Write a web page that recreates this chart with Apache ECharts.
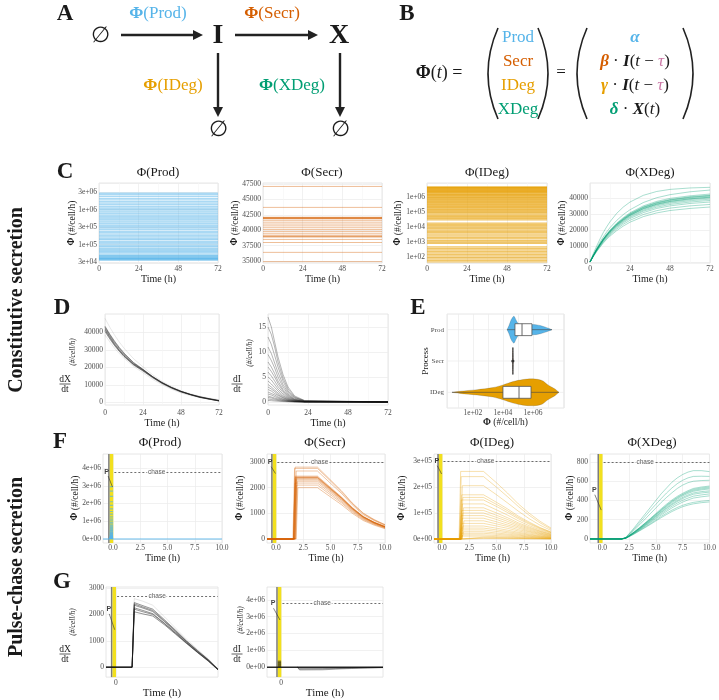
<!DOCTYPE html>
<html>
<head>
<meta charset="utf-8">
<title>Secretion model</title>
<script src="https://cdn.jsdelivr.net/npm/echarts@6/dist/echarts.min.js"></script>
<style>
html,body{margin:0;padding:0;background:#ffffff;}
#chart{width:719px;height:700px;}
</style>
</head>
<body>
<div id="chart"></div>
<script>
// ======================= DATA =======================
// Panel C : constitutive secretion, t in [0,72] h
const cTime = [0, 72];
const prodRates = [36000,38000,39000,40000,41000,42000,44000,46000,48000,50000,55000,60000,65000,70000,75000,80000,88000,95000,105000,115000,125000,140000,150000,165000,180000,200000,220000,240000,270000,300000,330000,360000,400000,440000,480000,530000,580000,640000,700000,770000,850000,930000,1020000,1120000,1250000,1400000,1550000,1700000,1900000,2100000,2400000,2700000,2950000];
const secrRates = [47100,43700,42100,42050,42000,41950,41900,41850,41600,41300,41000,40700,40400,40100,39800,39500,39200,39050,38950,38900,38500,38000,36400,34900];
const idegRates = [4700000,4400000,4100000,3800000,3500000,3200000,2900000,2600000,2400000,2200000,2000000,1800000,1600000,1450000,1300000,1150000,1000000,900000,800000,700000,620000,550000,480000,420000,360000,310000,270000,230000,200000,170000,145000,125000,105000,90000,75000,62000,52000,43000,36000,30000,18000,15000,12500,10000,8000,6500,5200,4200,3300,2600,2000,1600,1250,1000,800,480,380,300,240,190,150,120,95,75,60,48];
const xdegTimes = [0,2,4,6,8,10,12,16,20,24,32,40,48,60,72];
const xdegCurves = [
  [0,5300,10000,14400,18500,22000,25200,30400,34400,37500,41700,44100,45400,46300,46700],
  [0,4600,8700,12400,15800,18800,21500,26000,29700,32700,37200,40200,42100,43900,45000],
  [0,4200,8100,11500,14700,17500,20000,24300,27800,30800,35100,37900,39800,41400,42500],
  [0,4100,7900,11300,14400,17100,19600,23900,27300,30300,34500,37300,39100,40800,41800],
  [0,4100,7900,11200,14300,17000,19500,23700,27100,30000,34200,37000,38800,40500,41500],
  [0,4000,7800,11100,14200,16900,19400,23500,26900,29800,34000,36700,38600,40200,41200],
  [0,4000,7700,11000,14000,16700,19100,23200,26500,29400,33500,36200,38000,39600,40600],
  [0,4000,7700,10900,14000,16600,19000,23100,26400,29300,33400,36100,37900,39500,40500],
  [0,3900,7600,10800,13800,16400,18800,22800,26100,29000,33000,35700,37400,39000,40000],
  [0,3900,7500,10600,13600,16100,18500,22400,25700,28500,32400,35100,36800,38300,39300],
  [0,3800,7300,10400,13300,15800,18100,22000,25200,27900,31800,34300,36000,37500,38500],
  [0,3700,7100,10100,12900,15400,17600,21400,24500,27200,30900,33500,35100,36600,37500],
  [0,3500,6800,9700,12400,14800,16900,20600,23600,26100,29700,32100,33700,35100,36000],
  [0,3400,6500,9300,11900,14200,16200,19600,22500,24900,28400,30700,32200,33500,34400]
];
// Panel D
const dXTimes = [0,3,6,9,12,18,24,30,36,42,48,54,60,66,72];
const dXCurves = [
  [48000,43000,38500,34500,31000,25000,20300,15800,12000,9100,6700,4900,3500,2400,1500],
  [43500,39000,35000,31400,28200,22800,18900,14800,11400,8600,6300,4600,3200,2100,1100],
  [42800,38400,34300,30800,27600,22400,18700,14700,11300,8500,6300,4500,3100,2000,1000],
  [42000,37600,33500,30000,26800,22000,18500,14600,11200,8500,6300,4500,3000,1900,900],
  [41300,37000,33000,29600,26600,21700,18200,14400,11000,8300,6100,4400,2900,1850,850],
  [40500,36300,32500,29200,26200,21400,17900,14100,10800,8100,5900,4300,2800,1800,800],
  [38500,34600,31000,27900,25200,20600,16900,13200,10100,7500,5400,3900,2700,1700,900]
];
const dITimes = [0,2,4,6,9,12,16,22,72];
const dICurves = [
  [17,15,12,9,5.5,3,1.2,0.3,0],
  [15,13.5,11,8,4.8,2.6,1,0.25,0],
  [13,11.5,9.3,7,4.2,2.2,0.9,0.2,0],
  [11,9.7,7.8,5.9,3.5,1.9,0.75,0.18,0],
  [9.5,8.3,6.8,5,3,1.6,0.6,0.15,0],
  [8,7,5.7,4.2,2.5,1.4,0.5,0.12,0],
  [7,6.1,5,3.7,2.2,1.2,0.45,0.1,0],
  [6,5.2,4.2,3.1,1.9,1,0.4,0.1,0],
  [5,4.4,3.5,2.6,1.6,0.85,0.33,0.08,0],
  [4.2,3.6,2.9,2.2,1.3,0.7,0.28,0.07,0],
  [3.5,3,2.4,1.8,1.1,0.6,0.23,0.05,0],
  [3,2.6,2.1,1.5,0.9,0.5,0.2,0.05,0],
  [2.5,2.2,1.7,1.3,0.8,0.4,0.17,0.04,0],
  [2,1.7,1.4,1,0.6,0.33,0.13,0.03,0],
  [1.6,1.4,1.1,0.8,0.5,0.27,0.1,0.02,0],
  [1.2,1,0.8,0.6,0.37,0.2,0.08,0.02,0],
  [0.9,0.8,0.6,0.45,0.28,0.15,0.06,0.01,0],
  [0.6,0.5,0.4,0.3,0.18,0.1,0.04,0.01,0],
  [0.3,0.26,0.2,0.15,0.09,0.05,0.02,0,0]
];
// Panel E : violins (log10 of rate, relative density), box = [min,q1,median,q3,max] in log10
const violinCats = ['IDeg','Secr','Prod'];
const prodViolinLog10 = [[4.27,0],[4.4,0.3],[4.55,0.75],[4.73,1],[4.88,0.7],[5.05,0.42],[5.4,0.4],[5.8,0.38],[6.2,0.37],[6.5,0.3],[6.8,0.2],[7.05,0.1],[7.27,0]];
const prodBoxLog10 = [4.27,4.8,5.27,5.93,7.27];
const secrViolinLog10 = [[4.64,0],[4.66,1],[4.68,0]];
const secrBoxLog10 = [4.66,4.66,4.66,4.66,4.66];
const idegViolinLog10 = [[0.6,0],[1.13,0.08],[2.27,0.2],[3.33,0.35],[4.0,0.55],[4.67,0.8],[5.33,0.95],[6.0,1],[6.6,0.88],[7.0,0.55],[7.47,0.25],[7.73,0]];
const idegBoxLog10 = [0.6,4.0,5.07,5.87,7.73];
// Panel F : pulse-chase. Pulse window and chase markers
const pulseWindow = [-0.3, 0];
const plateauEnd = 3.8;
const riseDuration = 0.15;
const declineTimes = [5,6,7,8,9,10];
// rows: [jump time, plateau level, values at declineTimes...]
const secrPulse = [
  [1.6,2800,2300,1880,1400,1010,760,560],
  [1.55,2750,2260,1840,1380,990,740,550],
  [1.7,2650,2170,1780,1330,950,720,530],
  [1.6,2450,2010,1640,1230,880,660,490],
  [1.65,2420,1980,1620,1210,870,650,485],
  [1.7,2400,1970,1600,1190,870,640,470],
  [1.6,2390,1960,1600,1195,860,645,478],
  [1.75,2370,1940,1590,1185,855,640,474],
  [1.65,2340,1920,1570,1170,840,630,468],
  [1.7,2300,1890,1540,1150,830,620,460],
  [1.8,2250,1850,1510,1125,810,610,450],
  [1.6,2180,1790,1460,1090,785,590,436],
  [1.75,2100,1720,1410,1050,755,570,420],
  [1.85,2000,1640,1340,1000,720,540,400]
];
const idegPulse = [
  [1.55,260000,216000,177000,135000,99000,68000,42000],
  [1.6,240000,199000,163000,125000,91000,62000,38000],
  [1.7,205000,170000,139000,107000,78000,53000,33000],
  [1.65,170000,141000,116000,88000,65000,44000,27000],
  [1.75,160000,133000,109000,83000,61000,42000,26000],
  [1.6,150000,125000,102000,78000,57000,39000,24000],
  [1.7,135000,112000,92000,70000,51000,35000,22000],
  [1.8,120000,100000,82000,62000,46000,31000,19000],
  [1.65,110000,91000,75000,57000,42000,29000,18000],
  [1.75,100000,83000,68000,52000,38000,26000,16000],
  [1.6,90000,75000,61000,47000,34000,23000,14000],
  [1.7,80000,66000,54000,42000,30000,21000,13000],
  [1.85,70000,58000,48000,36000,27000,18000,11000],
  [1.65,60000,50000,41000,31000,23000,16000,9600],
  [1.75,50000,41500,34000,26000,19000,13000,8000],
  [1.6,42000,35000,28500,22000,16000,11000,6700],
  [1.7,35000,29000,24000,18000,13300,9100,5600],
  [1.8,28000,23000,19000,14600,10600,7300,4500],
  [1.65,22000,18300,15000,11400,8400,5700,3500],
  [1.75,16000,13300,10900,8300,6100,4200,2600],
  [1.6,11000,9100,7500,5700,4200,2900,1800],
  [1.7,7000,5800,4800,3600,2700,1800,1100],
  [1.8,4000,3300,2700,2100,1500,1000,640],
  [1.65,2000,1700,1400,1000,760,520,320]
];
const xdegPulseTimes = [1.8,2.2,2.5,3,3.5,4,4.5,5,5.5,6,6.5,7,7.5,8,8.5,9.25,10];
const xdegPulse = [
  [0,18,55,120,190,260,330,400,470,530,590,635,670,695,710,710,700],
  [0,16,50,108,170,235,300,360,420,478,530,575,610,635,650,652,650],
  [0,14,45,95,150,207,265,322,380,432,480,525,560,585,600,607,610],
  [0,11,35,76,120,167,215,265,315,362,405,443,475,502,525,540,550],
  [0,11,35,75,118,164,210,258,305,352,395,433,465,492,515,530,540],
  [0,10,33,73,115,160,205,253,300,345,388,425,458,484,505,520,530],
  [0,10,32,71,112,156,200,246,292,336,378,414,447,473,495,510,520],
  [0,9,30,68,108,150,193,237,282,325,365,400,432,457,478,492,500],
  [0,9,30,66,105,146,188,231,275,316,355,389,420,445,465,478,487],
  [0,9,28,63,100,140,180,221,263,302,340,373,402,425,445,458,468],
  [0,8,27,60,96,134,172,211,250,287,323,355,383,406,425,438,448],
  [0,8,25,56,90,125,160,197,235,268,300,327,350,367,380,392,400],
  [0,7,23,53,85,118,152,187,222,254,285,312,335,352,365,377,385]
];
// Panel G
const g1Times = [-0.9,1.5,1.7,2.5,3.4,4.5,5.5,6.5,7.5,8.5,9.4];
const g1Curves = [
  [0,0,2600,2500,2350,1900,1480,1060,680,320,-60],
  [0,0,2450,2330,2200,1790,1400,1000,640,290,-75],
  [0,0,2400,2280,2150,1750,1370,980,620,280,-80],
  [0,0,2350,2240,2110,1720,1340,960,600,270,-85],
  [0,0,2250,2150,2030,1660,1300,930,580,250,-90],
  [0,0,2200,2100,2000,1640,1280,920,570,240,-95],
  [0,0,2100,2020,1940,1600,1250,900,560,230,-100]
];
const g2BandRates = [360000,310000,270000,230000,190000,150000,110000,70000,30000];
const g2ChaseTimes = [1.5,1.7,3.8,5,6.5,8,9.4];
const g2ChaseCurves = [
  [0,-170000,-160000,-120000,-80000,-50000,-30000],
  [0,-130000,-120000,-90000,-60000,-40000,-20000],
  [0,-90000,-85000,-65000,-45000,-30000,-15000],
  [0,-50000,-45000,-35000,-25000,-15000,-8000]
];
// chase / pulse annotation levels
const chaseLevels = {f1:3770000, f2:3000, f3:300000, f4:800, g1:2700, g2:3820000};
const chaseLabelT = {f:4.0, g:3.8};

// tick values
const fTimeTicks = [0,2.5,5,7.5,10];
const gTimeTicks = [0];
const secrTicks = [35000,37500,40000,42500,45000,47500];
const xdegTicks = [0,10000,20000,30000,40000];
const dITicks = [0,5,10,15];
const f1Ticks = [0,1000000,2000000,3000000,4000000];
const f2Ticks = [0,1000,2000,3000];
const f3Ticks = [0,100000,200000,300000];
const f4Ticks = [0,200,400,600,800];
const g1Ticks = [0,1000,2000,3000];
const g2Ticks = [0,1000000,2000000,3000000,4000000];
const eShownExp = [2,4,6];

// ======================= STYLE / HELPERS =======================
const SERIF = 'Liberation Serif';
const SANS = 'Liberation Sans';
const COL = {prod:'#56B4E9', secr:'#D55E00', ideg:'#E69F00', xdeg:'#009E73', tau:'#CC79A7',
  ink:'#1a1a1a', tick:'#4d4d4d', grid:'#ebebeb', minor:'#f5f5f5', border:'#e0e0e0',
  band:'#f2e01e', bandEdge:'#7d7d7d'};
const grids = [], xAxes = [], yAxes = [], series = [], graphics = [];
const LBL = {fontFamily:SERIF, fontSize:7.5, color:COL.tick};

function pad2(e){ return (e<0?'-':'') + String(Math.abs(e)).padStart(2,'0'); }
function sci(v){
  if (Math.abs(v) < 1e-9) return '0e+00';
  const e = Math.floor(Math.log10(Math.abs(v)) + 1e-9);
  const m = Math.round(v / Math.pow(10, e));
  return m + 'e+' + pad2(e);
}
function decadeFmt(v){
  const e = Math.log10(v), k = Math.round(e);
  if (Math.abs(e-k) > 1e-4) return '';
  return '1e+' + pad2(k);
}
function halfDecadeFmt(v){
  const e2 = 2*Math.log10(v), k = Math.round(e2);
  if (Math.abs(e2-k) > 1e-3) return '';
  return (k%2===0 ? '1' : '3') + 'e+' + pad2(Math.floor(k/2));
}

function addGrid(l,t,w,h){
  grids.push({left:l, top:t, width:w, height:h, show:true, borderColor:COL.border, borderWidth:0.8, backgroundColor:'rgba(0,0,0,0)'});
  return grids.length-1;
}
function timeAxis(gi, min, max, o){
  o = o || {};
  const ax = {gridIndex:gi, type:'value', min:min, max:max,
    axisLine:{show:false}, axisTick:{show:false},
    axisLabel:Object.assign({}, LBL, {margin:o.margin!=null?o.margin:2, formatter:o.fmt||function(v){return String(v);}}),
    splitLine:{show:true, lineStyle:{color:COL.grid, width:0.7}},
    name:'Time (h)', nameLocation:'middle', nameGap:o.nameGap||9,
    nameTextStyle:{fontFamily:SERIF, fontSize:o.nameSize||10, color:COL.ink}};
  if (o.interval){ ax.interval = o.interval; ax.minorTick = {show:false, splitNumber:2}; ax.minorSplitLine = {show:true, lineStyle:{color:COL.minor, width:0.6}}; }
  if (o.ticks){ ax.axisTick.customValues = o.ticks; ax.axisLabel.customValues = o.ticks; }
  xAxes.push(ax);
}
function valY(gi, min, max, ticks, fmt){
  yAxes.push({gridIndex:gi, type:'value', min:min, max:max,
    axisLine:{show:false}, axisTick:{show:false, customValues:ticks},
    axisLabel:Object.assign({}, LBL, {margin:2, customValues:ticks, formatter:fmt||function(v){return String(v);}}),
    splitLine:{show:true, lineStyle:{color:COL.grid, width:0.7}}});
}
function addLine(gi, data, color, width, opacity, z){
  series.push({type:'line', xAxisIndex:gi, yAxisIndex:gi, data:data, symbol:'none', showSymbol:false,
    silent:true, animation:false, z:z||3, lineStyle:{color:color, width:width, opacity:opacity},
    emphasis:{disabled:true}, clip:true});
}
function zipT(times, vals){ return times.map(function(t,i){ return [t, vals[i]]; }); }
function pulseCurve(row, xmin){
  const d = [[xmin,0],[row[0],0],[row[0]+riseDuration,row[1]],[plateauEnd,row[1]]];
  declineTimes.forEach(function(t,i){ d.push([t,row[2+i]]); });
  return d;
}
function pulseDecor(gi, xmin, xmax, level, chaseT, pPos, pLead){
  series.push({type:'line', xAxisIndex:gi, yAxisIndex:gi, data:[[xmin,level]], symbol:'none', silent:true, animation:false, z:1,
    lineStyle:{opacity:0},
    markArea:{silent:true, label:{show:false}, data:[
      [{xAxis:pulseWindow[0]-0.15, itemStyle:{color:COL.bandEdge}}, {xAxis:pulseWindow[0]}],
      [{xAxis:pulseWindow[0], itemStyle:{color:COL.band}}, {xAxis:pulseWindow[1]+0.02}]
    ]}});
  series.push({type:'line', xAxisIndex:gi, yAxisIndex:gi, data:[[xmin,level]], symbol:'none', silent:true, animation:false, z:5,
    lineStyle:{opacity:0},
    markLine:{silent:true, symbol:['none','none'], label:{show:false}, animation:false, data:[
      [{coord:[pulseWindow[1]+0.12, level], lineStyle:{type:[2,2], color:'#333', width:0.7}}, {coord:[xmax, level]}],
      [{coord:pLead[0], lineStyle:{type:'solid', color:'#333', width:0.6}}, {coord:pLead[1]}]
    ]}});
  series.push({type:'scatter', xAxisIndex:gi, yAxisIndex:gi, silent:true, animation:false, z:6, symbolSize:1,
    itemStyle:{color:'rgba(0,0,0,0)'},
    data:[
      {value:[chaseT, level], label:{show:true, position:'inside', formatter:'chase', fontFamily:SANS, fontSize:6.5, color:'#333', backgroundColor:'#ffffff', padding:[0,1]}},
      {value:pPos, label:{show:true, position:'inside', formatter:'P', fontFamily:SANS, fontSize:7, fontWeight:'bold', color:'#111'}}
    ]});
}
function R(size, extra){ return Object.assign({fontSize:size, fontFamily:SERIF, fontWeight:'normal', fontStyle:'normal', fill:COL.ink}, extra||{}); }
function T(x, y, text, o){
  o = o || {};
  const st = {text:text, fill:o.color||COL.ink, fontSize:o.size||12, fontFamily:o.family||SERIF,
    fontWeight:o.weight||'normal', fontStyle:o.italic?'italic':'normal',
    align:o.align||'center', verticalAlign:'middle', textAlign:o.align||'center', textVerticalAlign:'middle'};
  if (o.rich) st.rich = o.rich;
  return {type:'text', x:x, y:y, rotation:o.rot||0, silent:true, z:100, style:st};
}
function phiName(x, y){
  graphics.push(T(x, y, '{b|Φ}{n| (#/cell/h)}', {rot:Math.PI/2, rich:{b:R(9.5,{fontWeight:'bold'}), n:R(9.5)}}));
}
function fracName(cx, cy, top, x2, y2){
  graphics.push(T(cx, cy-5, top, {size:9.5}));
  graphics.push({type:'line', silent:true, z:100, shape:{x1:cx-5.5, y1:cy, x2:cx+5.5, y2:cy}, style:{stroke:COL.ink, lineWidth:0.7}});
  graphics.push(T(cx, cy+5, 'dt', {size:9.5}));
  graphics.push(T(x2, y2, '(#/cell/h)', {size:7.5, rot:Math.PI/2, italic:true}));
}

// ======================= PANEL C =======================
const gC1 = addGrid(99,183,119,80), gC2 = addGrid(263,183,119,80), gC3 = addGrid(427,183,120,80), gC4 = addGrid(590,183,120,80);
[gC1,gC2,gC3,gC4].forEach(function(g){ timeAxis(g, cTime[0], cTime[1], {interval:24, margin:2, nameGap:9}); });
yAxes.push({gridIndex:gC1, type:'log', logBase:Math.sqrt(10), min:30000, max:5800000, axisLine:{show:false}, axisTick:{show:false},
  axisLabel:Object.assign({}, LBL, {margin:2, formatter:halfDecadeFmt}), splitLine:{show:true, lineStyle:{color:COL.grid, width:0.7}}});
valY(gC2, 34675, 47660, secrTicks);
yAxes.push({gridIndex:gC3, type:'log', logBase:10, min:40, max:8500000, axisLine:{show:false}, axisTick:{show:false},
  axisLabel:Object.assign({}, LBL, {margin:2, formatter:decadeFmt}), splitLine:{show:true, lineStyle:{color:COL.grid, width:0.7}}});
valY(gC4, -600, 49400, xdegTicks);
prodRates.forEach(function(v){ addLine(gC1, [[cTime[0],v],[cTime[1],v]], COL.prod, 1.3, 0.5); });
secrRates.forEach(function(v){ addLine(gC2, [[cTime[0],v],[cTime[1],v]], COL.secr, 1.0, 0.4); });
idegRates.forEach(function(v){ addLine(gC3, [[cTime[0],v],[cTime[1],v]], COL.ideg, 1.3, 0.6); });
xdegCurves.forEach(function(c){ addLine(gC4, zipT(xdegTimes, c), COL.xdeg, 0.9, 0.38, 3); });

// ======================= PANEL D =======================
const gD1 = addGrid(105,314,114,91), gD2 = addGrid(268,314,120,91);
[gD1,gD2].forEach(function(g){ timeAxis(g, cTime[0], cTime[1], {interval:24, margin:4, nameGap:12}); });
valY(gD1, -1500, 50500, xdegTicks);
valY(gD2, -0.6, 17.6, dITicks);
dXCurves.forEach(function(c,i){ addLine(gD1, zipT(dXTimes, c), '#111', i===0||i===6?0.8:1.0, i===0||i===6?0.12:0.45, 3); });
dICurves.forEach(function(c){ addLine(gD2, zipT(dITimes, c), '#111', 0.9, 0.35, 3); });

// ======================= PANEL E =======================
const gE = addGrid(447,314,117,94);
xAxes.push({gridIndex:gE, type:'log', logBase:10, min:1.86, max:1.17e8, axisLine:{show:false}, axisTick:{show:false},
  axisLabel:Object.assign({}, LBL, {margin:1, formatter:function(v){ const k = Math.round(Math.log10(v)); if (Math.abs(Math.log10(v)-k)>1e-4 || eShownExp.indexOf(k)<0) return ''; return sci(v); }}),
  splitLine:{show:true, lineStyle:{color:COL.grid, width:0.7}},
  name:'{b|Φ}{n| (#/cell/h)}', nameLocation:'middle', nameGap:7,
  nameTextStyle:{fontFamily:SERIF, fontSize:9.5, color:COL.ink, rich:{b:{fontFamily:SERIF, fontSize:9.5, fontWeight:'bold', color:COL.ink}, n:{fontFamily:SERIF, fontSize:9.5, color:COL.ink}}}});
yAxes.push({gridIndex:gE, type:'category', data:violinCats, axisLine:{show:false}, axisTick:{show:false}, splitLine:{show:false},
  axisLabel:Object.assign({}, LBL, {margin:3, fontSize:7})});
const violins = [
  {cat:2, prof:prodViolinLog10, box:prodBoxLog10, fill:COL.prod, stroke:'rgba(40,40,40,0.35)', lw:0.5},
  {cat:1, prof:secrViolinLog10, box:secrBoxLog10, fill:COL.secr, stroke:'#4a4a4a', lw:1, dot:true},
  {cat:0, prof:idegViolinLog10, box:idegBoxLog10, fill:COL.ideg, stroke:'rgba(40,40,40,0.35)', lw:0.5}
];
series.push({type:'custom', xAxisIndex:gE, yAxisIndex:gE, silent:true, animation:false, z:3,
  data: violins.map(function(v){ return [Math.pow(10, v.box[2]), v.cat]; }),
  renderItem:function(params, api){
    const v = violins[params.dataIndex];
    const cs = params.coordSys;
    const X = function(lx){ return api.coord([Math.pow(10, lx), v.cat])[0]; };
    const cy = api.coord([10, v.cat])[1];
    const band = Math.abs(api.coord([10,0])[1] - api.coord([10,1])[1]);
    const mh = band*0.43, bh = band*0.19;
    const up = v.prof.map(function(p){ return [X(p[0]), cy - p[1]*mh]; });
    const dn = v.prof.slice().reverse().map(function(p){ return [X(p[0]), cy + p[1]*mh]; });
    const ch = [
      {type:'line', shape:{x1:cs.x, y1:cy, x2:cs.x+cs.width, y2:cy}, style:{stroke:COL.grid, lineWidth:0.7}},
      {type:'polygon', shape:{points:up.concat(dn), smooth:0.3}, style:{fill:v.fill, stroke:v.stroke, lineWidth:v.lw}}
    ];
    if (v.dot){
      ch.push({type:'circle', shape:{cx:X(v.box[2]), cy:cy, r:1.6}, style:{fill:'#333'}});
    } else {
      ch.push({type:'line', shape:{x1:X(v.box[0]), y1:cy, x2:X(v.box[4]), y2:cy}, style:{stroke:'#444', lineWidth:0.6}});
      ch.push({type:'rect', shape:{x:X(v.box[1]), y:cy-bh, width:X(v.box[3])-X(v.box[1]), height:2*bh}, style:{fill:'#ffffff', stroke:'#555', lineWidth:0.8}});
      ch.push({type:'line', shape:{x1:X(v.box[2]), y1:cy-bh, x2:X(v.box[2]), y2:cy+bh}, style:{stroke:'#555', lineWidth:0.9}});
    }
    return {type:'group', children:ch};
  }});

// ======================= PANEL F =======================
const gF1 = addGrid(103,454,119,89), gF2 = addGrid(267,454,118,89), gF3 = addGrid(434,454,117,89), gF4 = addGrid(590,454,120,89);
const fMin = {f1:-0.92, f2:-0.83, f3:-0.75, f4:-1.15};
const f1dp = function(v){ return v.toFixed(1); };
timeAxis(gF1, fMin.f1, 10, {ticks:fTimeTicks, margin:1, fmt:f1dp});
timeAxis(gF2, fMin.f2, 10, {ticks:fTimeTicks, margin:1, fmt:f1dp});
timeAxis(gF3, fMin.f3, 10, {ticks:fTimeTicks, margin:1, fmt:f1dp});
timeAxis(gF4, fMin.f4, 10, {ticks:fTimeTicks, margin:1, fmt:f1dp});
valY(gF1, -225000, 4790000, f1Ticks, sci);
valY(gF2, -156, 3312, f2Ticks);
valY(gF3, -15400, 327000, f3Ticks, sci);
valY(gF4, -42, 883, f4Ticks);
pulseDecor(gF1, fMin.f1, 10, chaseLevels.f1, chaseLabelT.f, [-0.6, 3770000], [[-0.45,3550000],[-0.05,2930000]]);
pulseDecor(gF2, fMin.f2, 10, chaseLevels.f2, chaseLabelT.f, [-0.55, 3000], [[-0.45,2820],[-0.05,2550]]);
pulseDecor(gF3, fMin.f3, 10, chaseLevels.f3, chaseLabelT.f, [-0.5, 300000], [[-0.45,282000],[-0.05,250000]]);
pulseDecor(gF4, fMin.f4, 10, chaseLevels.f4, chaseLabelT.f, [-0.75, 510], [[-0.7,460],[-0.1,300]]);
prodRates.forEach(function(v){ addLine(gF1, [[pulseWindow[0],v],[pulseWindow[1],v]], COL.prod, 1.2, 0.7, 3); });
addLine(gF1, [[fMin.f1,0],[10,0]], COL.prod, 1.2, 0.9, 3);
secrPulse.forEach(function(r){ addLine(gF2, pulseCurve(r, fMin.f2), COL.secr, 0.9, 0.4, 3); });
idegPulse.forEach(function(r){ addLine(gF3, pulseCurve(r, fMin.f3), COL.ideg, 0.9, 0.36, 3); });
xdegPulse.forEach(function(c){ addLine(gF4, [[fMin.f4,0]].concat(zipT(xdegPulseTimes, c)), COL.xdeg, 0.9, 0.38, 3); });

// ======================= PANEL G =======================
const gG1 = addGrid(106,587,112,91), gG2 = addGrid(267,587,116,91);
timeAxis(gG1, -0.9, 9.4, {ticks:gTimeTicks, margin:2, nameGap:9, nameSize:11});
timeAxis(gG2, -1.3, 9.4, {ticks:gTimeTicks, margin:2, nameGap:9, nameSize:11});
valY(gG1, -375, 3040, g1Ticks);
valY(gG2, -590000, 4760000, g2Ticks, sci);
pulseDecor(gG1, -0.9, 9.4, chaseLevels.g1, chaseLabelT.g, [-0.65, 2200], [[-0.6,2020],[-0.1,1420]]);
pulseDecor(gG2, -1.3, 9.4, chaseLevels.g2, chaseLabelT.g, [-0.75, 3800000], [[-0.7,3500000],[-0.1,2800000]]);
g1Curves.forEach(function(c,i){ addLine(gG1, zipT(g1Times, c), '#111', i===0?0.7:1.0, i===0?0.15:0.45, 3); });
g2BandRates.forEach(function(v){ addLine(gG2, [[pulseWindow[0],v],[pulseWindow[1],v]], '#111', 1, 0.5, 3); });
g2ChaseCurves.forEach(function(c){ addLine(gG2, zipT(g2ChaseTimes, c), '#111', 0.9, 0.35, 3); });
addLine(gG2, [[-1.3,0],[9.4,0]], '#111', 1.5, 0.9, 4);

// ======================= TEXT / DIAGRAM =======================
[['A',65,14],['B',407,14],['C',65,172],['D',62,308],['E',418,308],['F',60,442],['G',62,582]].forEach(function(p){
  graphics.push(T(p[1], p[2], p[0], {size:23, weight:'bold'}));
});
graphics.push(T(17, 300, 'Constitutive secretion', {size:20, weight:'bold', rot:Math.PI/2}));
graphics.push(T(17, 567, 'Pulse-chase secretion', {size:20, weight:'bold', rot:Math.PI/2}));
[['Prod',158,173],['Secr',322,173],['IDeg',487,173],['XDeg',650,173],['Prod',160,443],['Secr',325,443],['IDeg',492,443],['XDeg',652,443]].forEach(function(p){
  graphics.push(T(p[1], p[2], 'Φ(' + p[0] + ')', {size:13}));
});
[[72,223],[235,223],[398,223],[562,223],[75,498],[240,498],[402,498],[570,498]].forEach(function(p){ phiName(p[0], p[1]); });
fracName(65, 384, 'dX', 73, 352);
fracName(237, 384, 'dI', 250, 353);
fracName(65, 654, 'dX', 73, 622);
fracName(237, 654, 'dI', 241, 620);
graphics.push(T(426, 361, 'Process', {size:9, rot:Math.PI/2}));

function arrowH(x1, x2, y){
  graphics.push({type:'line', silent:true, z:100, shape:{x1:x1, y1:y, x2:x2-6, y2:y}, style:{stroke:'#222', lineWidth:2.4}});
  graphics.push({type:'polygon', silent:true, z:100, shape:{points:[[x2,y],[x2-10,y-5],[x2-10,y+5]]}, style:{fill:'#222'}});
}
function arrowV(x, y1, y2){
  graphics.push({type:'line', silent:true, z:100, shape:{x1:x, y1:y1, x2:x, y2:y2-6}, style:{stroke:'#222', lineWidth:2.4}});
  graphics.push({type:'polygon', silent:true, z:100, shape:{points:[[x,y2],[x-5,y2-10],[x+5,y2-10]]}, style:{fill:'#222'}});
}
graphics.push(T(100, 36, '∅', {size:22}));
arrowH(121, 203, 35);
graphics.push(T(218, 36, 'I', {size:28, weight:'bold'}));
arrowH(235, 318, 35);
graphics.push(T(339, 36, 'X', {size:28, weight:'bold'}));
arrowV(218, 53, 117);
arrowV(340, 53, 117);
graphics.push(T(218, 130, '∅', {size:22}));
graphics.push(T(340, 130, '∅', {size:22}));
function phiLabel(x, y, name, color){
  graphics.push(T(x, y, '{b|Φ}{n|(' + name + ')}', {rich:{b:R(17,{fontWeight:'bold', fill:color}), n:R(17,{fill:color})}}));
}
phiLabel(158, 14, 'Prod', COL.prod);
phiLabel(272, 14, 'Secr', COL.secr);
phiLabel(173, 86, 'IDeg', COL.ideg);
phiLabel(292, 86, 'XDeg', COL.xdeg);

graphics.push(T(439, 73, '{b|Φ}{n|(}{i|t}{n|) =}', {rich:{b:R(18,{fontWeight:'bold'}), n:R(18), i:R(18,{fontStyle:'italic'})}}));
function paren(x, y1, y2, dir){
  graphics.push({type:'bezierCurve', silent:true, z:100, shape:{x1:x, y1:y1, x2:x, y2:y2, cpx1:x + dir*20, cpy1:(y1+y2)/2}, style:{stroke:'#222', lineWidth:1.6, fill:null}});
}
paren(498, 28, 119, -1); paren(538, 28, 119, 1);
paren(587, 28, 119, -1); paren(683, 28, 119, 1);
graphics.push(T(518, 38, 'Prod', {size:17, color:COL.prod}));
graphics.push(T(518, 62, 'Secr', {size:17, color:COL.secr}));
graphics.push(T(518, 86, 'IDeg', {size:17, color:COL.ideg}));
graphics.push(T(518, 110, 'XDeg', {size:17, color:COL.xdeg}));
graphics.push(T(561, 73, '=', {size:17}));
const eqRich = function(c){ return {g:R(17,{fontWeight:'bold', fontStyle:'italic', fill:c}), n:R(17), i:R(17,{fontWeight:'bold', fontStyle:'italic'}), t:R(17,{fontStyle:'italic'}), p:R(17,{fontStyle:'italic', fill:COL.tau})}; };
graphics.push(T(635, 38, '{g|α}', {rich:eqRich(COL.prod)}));
graphics.push(T(635, 62, '{g|β}{n| · }{i|I}{n|(}{t|t}{n| − }{p|τ}{n|)}', {rich:eqRich(COL.secr)}));
graphics.push(T(635, 86, '{g|γ}{n| · }{i|I}{n|(}{t|t}{n| − }{p|τ}{n|)}', {rich:eqRich(COL.ideg)}));
graphics.push(T(635, 110, '{g|δ}{n| · }{i|X}{n|(}{t|t}{n|)}', {rich:eqRich(COL.xdeg)}));

// ======================= RENDER =======================
const chart = echarts.init(document.getElementById('chart'), null, {renderer:'canvas', width:719, height:700});
chart.setOption({
  animation:false,
  backgroundColor:'#ffffff',
  textStyle:{fontFamily:SERIF},
  grid:grids, xAxis:xAxes, yAxis:yAxes, series:series,
  graphic:{elements:graphics}
});
</script>
</body>
</html>
